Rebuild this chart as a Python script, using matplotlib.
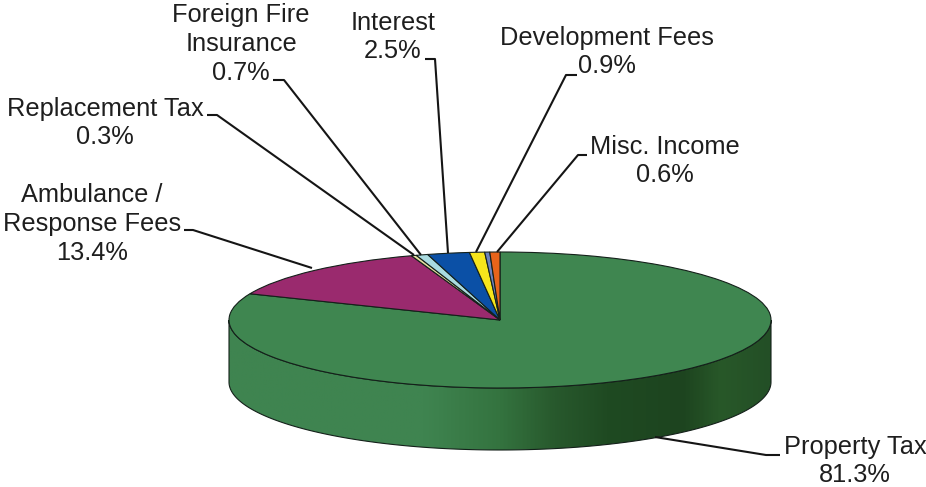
import numpy as np
import matplotlib
matplotlib.use("Agg")
import matplotlib.pyplot as plt
from matplotlib.colors import LinearSegmentedColormap
from matplotlib.patches import Polygon

plt.rcParams['font.family'] = ['Liberation Sans', 'DejaVu Sans']

# Clockwise from 12 o'clock
categories = ['Property Tax', 'Ambulance / Response Fees', 'Replacement Tax',
              'Foreign Fire Insurance', 'Interest', 'Development Fees', 'Unlabeled', 'Misc. Income']
values = [81.3, 13.4, 0.3, 0.7, 2.5, 0.9, 0.3, 0.6]
colors = ['#3f8650', '#9a2a6e', '#e6dfa0', '#a9dbe0', '#0b50a6', '#f6e51c', '#6c82bd', '#e8641a']

W, H = 926, 487
CX, CY, RX, RY, DEPTH = 500, 320, 271, 68, 62

fig = plt.figure(figsize=(W / 100, H / 100), dpi=100, facecolor='white')
ax = fig.add_axes([0, 0, 1, 1])
ax.pie(values, colors=colors, startangle=90, counterclock=False, radius=1, center=(0, 0),
       wedgeprops=dict(edgecolor='#14201a', linewidth=0.8))
ax.set_aspect('auto')
ax.set_xlim(-CX / RX, (W - CX) / RX)
ax.set_ylim((CY - H) / RY, CY / RY)
ax.axis('off')

# Extruded side, shaded across the width
d = DEPTH / RY
t = np.linspace(np.pi, 2 * np.pi, 200)
side = np.vstack([np.column_stack([np.cos(t), np.sin(t)]),
                  np.column_stack([np.cos(t[::-1]), np.sin(t[::-1]) - d])])
shade = LinearSegmentedColormap.from_list('side', [
    (0.00, '#3f8450'), (0.36, '#3f8450'), (0.50, '#34733f'), (0.60, '#28592d'),
    (0.70, '#1f4a22'), (0.84, '#1d441f'), (0.91, '#285829'), (1.00, '#234f26')])
im = ax.imshow(np.linspace(0, 1, 400)[None, :], cmap=shade, aspect='auto', zorder=0,
               extent=(-1, 1, -1 - d, 1))
ax.set_xlim(-CX / RX, (W - CX) / RX)
ax.set_ylim((CY - H) / RY, CY / RY)
im.set_clip_path(Polygon(side, transform=ax.transData))
ax.add_patch(Polygon(side, closed=True, fill=False, edgecolor='#14201a', linewidth=0.8, zorder=0.5))

# Overlay in pixel coordinates for labels and leader lines
ov = fig.add_axes([0, 0, 1, 1], facecolor='none')
ov.set_xlim(0, W)
ov.set_ylim(H, 0)
ov.axis('off')

labels = [
    ('Foreign Fire\nInsurance\n0.7%', 241, 44, [(273, 80), (284, 80), (421, 255)]),
    ('Interest\n2.5%', 393, 37, [(425, 59), (435, 59), (448, 253)]),
    ('Replacement Tax\n0.3%', 105, 123, [(207, 115), (217, 115), (414, 255)]),
    ('Ambulance /\nResponse Fees\n13.4%', 92, 224, [(184, 230), (193, 230), (312, 268)]),
    ('Development Fees\n0.9%', 607, 52, [(577, 75), (566, 75), (476, 252)]),
    ('Misc. Income\n0.6%', 665, 161, [(587, 155), (578, 155), (497, 252)]),
    ('Property Tax\n81.3%', 855, 461, [(780, 455), (766, 455), (655, 437)]),
]
for text, x, y, line in labels:
    ov.text(x, y, text, ha='center', va='center', fontsize=18.3, color='#1e1e1e', linespacing=1.26)
    xs, ys = zip(*line)
    ov.plot(xs, ys, color='#151515', lw=1.5, solid_capstyle='butt')

fig.savefig('out.png', dpi=100, facecolor='white')
